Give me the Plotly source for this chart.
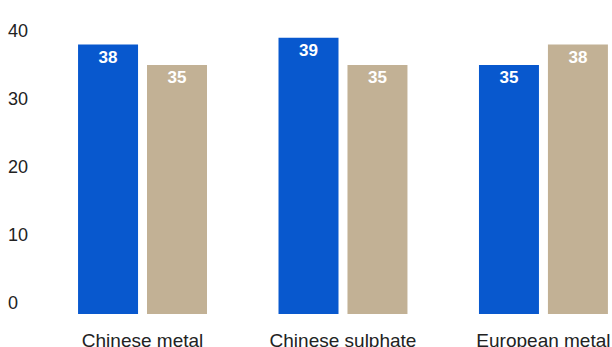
import plotly.graph_objects as go

categories = ["Chinese metal", "Chinese sulphate", "European metal"]
series_a = [38, 39, 35]
series_b = [35, 35, 38]
y_ticks = [0, 10, 20, 30, 40]

BASE = -1.62  # bars start at the bottom of the plot area, slightly below 0

fig = go.Figure()
for name, vals, color in [("Series A", series_a, "#0858CE"), ("Series B", series_b, "#C2B195")]:
    fig.add_trace(go.Bar(
        x=categories,
        y=[v - BASE for v in vals],
        base=BASE,
        name=name,
        marker=dict(color=color, line=dict(width=0)),
        text=[str(v) for v in vals],
        textposition="inside",
        insidetextanchor="end",
        textfont=dict(family="Liberation Sans, Arial, sans-serif", size=17, color="white", weight="bold"),
        hoverinfo="skip",
    ))

fig.update_layout(
    width=612, height=347,
    margin=dict(l=0, r=0, t=10, b=33, autoexpand=False),
    paper_bgcolor="white", plot_bgcolor="white",
    showlegend=False,
    barmode="group",
    bargap=0.312, bargroupgap=0.13,
    font=dict(family="Liberation Sans, Arial, sans-serif", color="#222222"),
    xaxis=dict(
        type="category",
        range=[-0.711, 2.342],
        automargin=False,
        showgrid=False, zeroline=False, showline=False,
        ticks="outside", ticklen=9, tickcolor="rgba(0,0,0,0)",
        tickfont=dict(size=19, color="#222222"),
    ),
    yaxis=dict(
        range=[BASE, 43.09],
        automargin=False,
        tickvals=y_ticks,
        ticktext=[str(t) for t in y_ticks],
        ticklabelposition="inside",
        ticklabelstandoff=5,
        showgrid=False, zeroline=False, showline=False,
        tickfont=dict(size=18, color="#222222"),
    ),
)

fig.write_html(
    "out.html",
    config={"displayModeBar": False},
    post_script="document.body.style.margin='0';",
)
